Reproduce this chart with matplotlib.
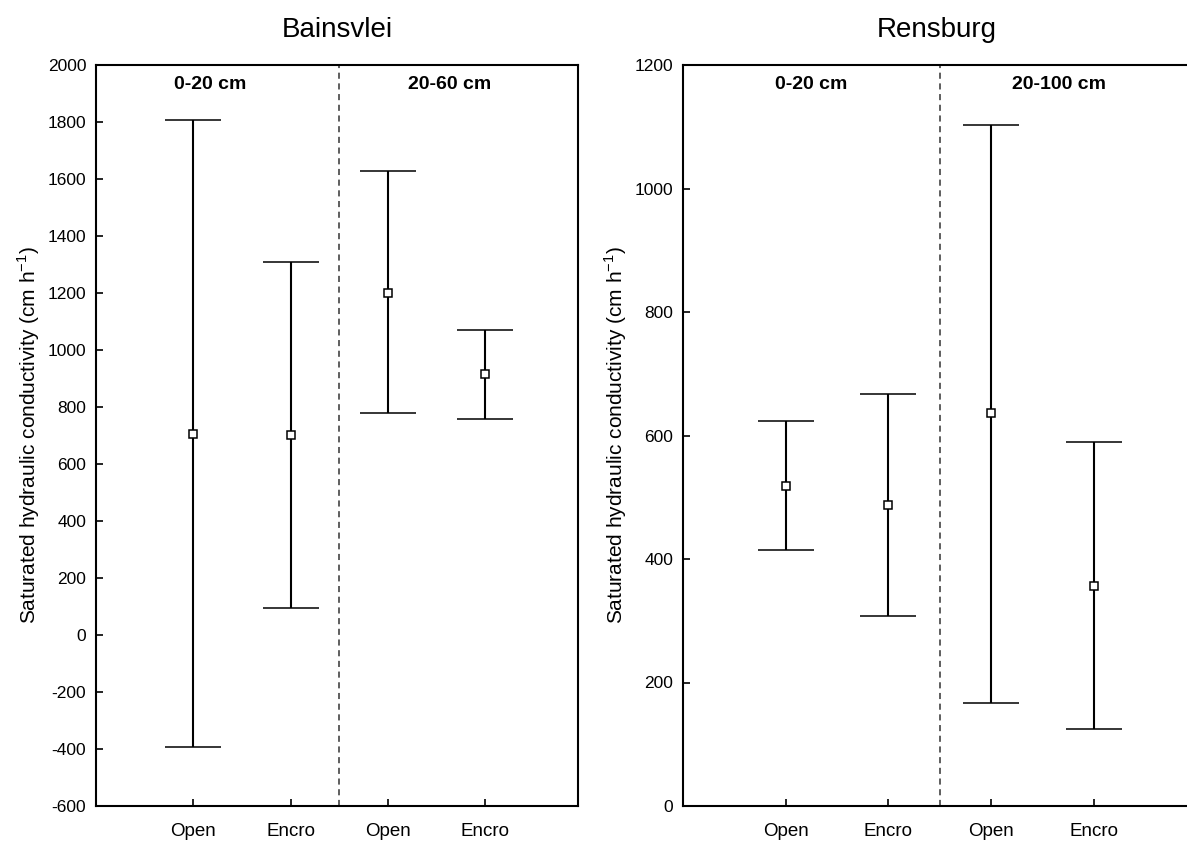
import matplotlib
matplotlib.use("Agg")
import matplotlib.pyplot as plt
import numpy as np

plt.rcParams['font.family'] = ['Liberation Sans', 'DejaVu Sans']

categories = ["Open", "Encro", "Open", "Encro"]

# Bainsvlei
bain_mean = [705, 702, 1200, 915]
bain_low = [-393, 95, 779, 758]
bain_high = [1808, 1310, 1628, 1070]
bain_sections = ["0-20 cm", "20-60 cm"]
bain_yticks = list(range(-600, 2001, 200))

# Rensburg
rens_mean = [519, 487, 636, 357]
rens_low = [415, 308, 167, 125]
rens_high = [624, 667, 1103, 590]
rens_sections = ["0-20 cm", "20-100 cm"]
rens_yticks = list(range(0, 1201, 200))

W, H = 1187, 843
fig = plt.figure(figsize=(W / 100, H / 100), dpi=100)

def panel(rect, title, mean, low, high, sections, yticks, sec_x):
    ax = fig.add_axes(rect)
    x = np.arange(1, len(categories) + 1)
    mean = np.array(mean, float)
    yerr = np.vstack([mean - np.array(low), np.array(high) - mean])
    ax.errorbar(x, mean, yerr=yerr, fmt='s', color='black', ecolor='black',
                elinewidth=1.5, capsize=20, capthick=1.5, markersize=5.5,
                markerfacecolor='white', markeredgecolor='black', markeredgewidth=1.1)
    ax.set_xlim(0, 4.95)
    ax.set_ylim(yticks[0], yticks[-1])
    ax.set_yticks(yticks)
    ax.set_yticklabels([str(t) for t in yticks], fontsize=12.5)
    ax.set_xticks(x)
    ax.set_xticklabels(categories, fontsize=13.5)
    ax.tick_params(axis='both', direction='in', length=5, width=1.2)
    ax.tick_params(axis='x', pad=12)
    ax.tick_params(axis='y', pad=7)
    for s in ax.spines.values():
        s.set_linewidth(1.5)
    ax.axvline(2.5, color='#333333', linestyle=(0, (4, 3)), linewidth=1.1)
    ax.text(sec_x[0], 0.985, sections[0], transform=ax.get_xaxis_transform(),
            ha='center', va='top', fontsize=14, fontweight='bold')
    ax.text(sec_x[1], 0.985, sections[1], transform=ax.get_xaxis_transform(),
            ha='center', va='top', fontsize=14, fontweight='bold')
    ax.set_ylabel("Saturated hydraulic conductivity (cm h$^{\\mathregular{-1}}$)", fontsize=15, labelpad=4)
    ax.set_title(title, fontsize=20, pad=20)
    return ax

top, bottom = 65, 806
ax1 = panel([96 / W, 1 - bottom / H, (578 - 96) / W, (bottom - top) / H],
            "Bainsvlei", bain_mean, bain_low, bain_high, bain_sections, bain_yticks, (1.17, 3.63))
ax2 = panel([683 / W, 1 - bottom / H, (1191 - 683) / W, (bottom - top) / H],
            "Rensburg", rens_mean, rens_low, rens_high, rens_sections, rens_yticks, (1.25, 3.66))

fig.savefig("out.png", dpi=100)
